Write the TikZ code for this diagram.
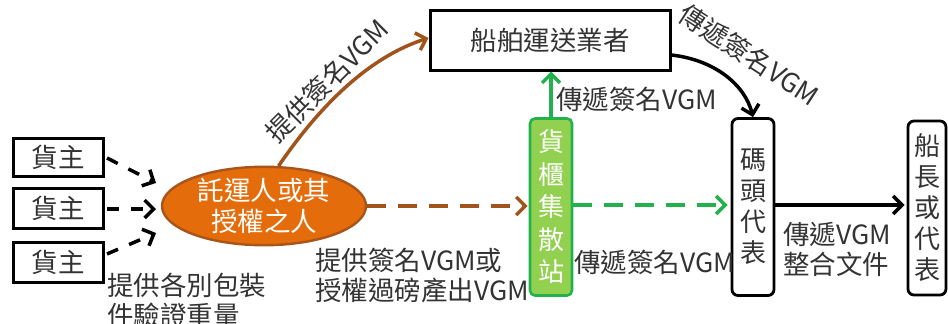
\documentclass[tikz,border=0pt]{standalone}
\usepackage{fontspec}
\setmainfont{Noto Sans CJK TC}
\usetikzlibrary{arrows.meta,shapes.geometric}
\definecolor{org}{HTML}{E46C0A}
\definecolor{orgd}{HTML}{A8541A}
\definecolor{brn}{HTML}{A0531A}
\definecolor{grn}{HTML}{22B14C}
\definecolor{lgrn}{HTML}{92D050}
\definecolor{txt}{HTML}{333333}
\begin{document}
\begin{tikzpicture}[x=1pt,y=-1pt,
  font=\fontsize{26.5}{30}\selectfont,
  box/.style={draw=black,line width=3pt,fill=white,inner sep=0pt,text=txt},
  rbox/.style={draw=black,line width=2.8pt,fill=white,rounded corners=6pt,inner sep=0pt,text=txt,align=center,font=\fontsize{26}{31}\selectfont},
  lbl/.style={text=txt,inner sep=0pt,align=left},
  tip/.style={-{Straight Barb[length=9pt,width=18pt]}},
  blkdash/.style={tip,draw=black,line width=3.5pt,dash pattern=on 12pt off 12pt},
]
\path[use as bounding box] (0,0) rectangle (948,324);
% nodes
\node[box,minimum width=90pt,minimum height=38pt] (s1) at (58,157) {貨主};
\node[box,minimum width=90pt,minimum height=40pt] (s2) at (58,208) {貨主};
\node[box,minimum width=90pt,minimum height=40pt] (s3) at (58,262) {貨主};
\node[ellipse,fill=org,draw=orgd,line width=2.4pt,minimum width=204pt,minimum height=66pt,
      inner sep=0pt,text=white,align=center,font=\fontsize{26.5}{31}\selectfont] (e) at (264,206) {託運人或其\\授權之人};
\node[box,minimum width=240pt,minimum height=60pt] (ship) at (550,40) {船舶運送業者};
\node[draw=grn,line width=2.6pt,fill=lgrn,rounded corners=5pt,minimum width=42pt,minimum height=177pt,
      inner sep=0pt,text=white,align=center,font=\fontsize{26}{32.5}\selectfont] (g) at (551,207) {貨\\櫃\\集\\散\\站};
\node[rbox,minimum width=42pt,minimum height=177pt] (w) at (753,207) {碼\\頭\\代\\表};
\node[rbox,minimum width=38pt,minimum height=174pt] (c) at (927,208) {船\\長\\或\\代\\表};
% free ends
\coordinate (t1) at (156,183);
\coordinate (t2) at (156,209);
\coordinate (t3) at (156,233);
\coordinate (a1) at (107,158);
\coordinate (a2) at (107,209);
\coordinate (a3) at (107,254);
% connectors
\draw[blkdash] (a1) -- (t1);
\draw[blkdash] (a2) -- (t2);
\draw[blkdash] (a3) -- (t3);
\draw[tip,draw=brn,line width=3.5pt] (e.70) .. controls (310,120) and (360,60) .. (ship.west |- 0,38);
\draw[tip,draw=brn,line width=3.5pt,dash pattern=on 19pt off 12pt,shorten >=1pt] (e.east) -- (g.west |- e.east);
\draw[tip,draw=grn,line width=3.5pt] (g.north) -- (ship.south -| g.north);
\draw[tip,draw=grn,line width=3.5pt,dash pattern=on 19pt off 12pt,shorten >=3pt] (g.east |- 0,205) -- (w.west |- 0,205);
\draw[tip,draw=black,line width=3.5pt] (ship.east |- 0,55) .. controls (715,60) and (745,85) .. (w.north);
\draw[tip,draw=black,line width=3.5pt,shorten >=2pt] (w.east |- 0,205) -- (c.west |- 0,205);
% labels
\node[lbl,anchor=north west] (l1) at (107,273) {提供各別包裝\\件驗證重量};
\node[lbl,anchor=north west] (l2) at (315,248) {提供簽名VGM或\\授權過磅產出VGM};
\node[lbl,anchor=west] (l3) at (574,262) {傳遞簽名VGM};
\node[lbl,anchor=west] (l4) at (556,99) {傳遞簽名VGM};
\node[lbl,anchor=north west] (l5) at (783,222) {傳遞VGM\\整合文件};
\node[lbl,rotate=45] (l6) at (327,81) {提供簽名VGM};
\node[lbl,rotate=-33] (l7) at (749,55) {傳遞簽名VGM};
\end{tikzpicture}
\end{document}
